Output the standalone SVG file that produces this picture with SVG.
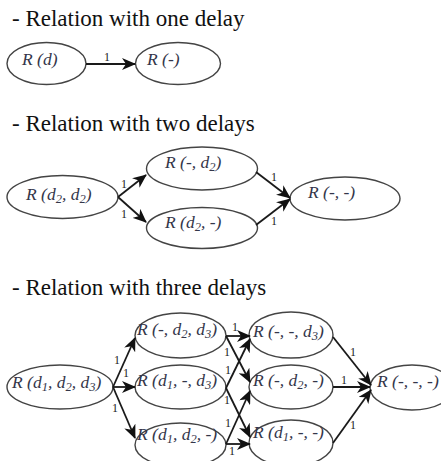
<svg xmlns="http://www.w3.org/2000/svg" width="441" height="461" viewBox="0 0 441 461">
<style>
.title{font-size:23px;fill:#111}
.lbl{font-style:italic;font-size:17.5px;fill:#34364a}
.s{font-size:12.5px}
.w{font-size:12px;fill:#222}
ellipse{fill:#fff;stroke:#444;stroke-width:1.4}
.c line{stroke:#1a1a1a;stroke-width:1.8;marker-end:url(#ah)}
</style>
<defs>
<marker id="ah" markerUnits="userSpaceOnUse" markerWidth="14" markerHeight="12" viewBox="0 0 14 12" refX="13" refY="6" orient="auto">
<path d="M0,0 L14,6 L0,12 L4,6 z" fill="#111"/>
</marker>
</defs>
<rect width="441" height="461" fill="#fff"/>
<g font-family="'Liberation Serif', 'Times New Roman', 'DejaVu Serif', serif">
<text class="title" x="12" y="26">- Relation with one delay</text>
<text class="title" x="12" y="131">- Relation with two delays</text>
<text class="title" x="12" y="295">- Relation with three delays</text>

<!-- Section 1 -->
<g id="n1_d"><ellipse cx="46.5" cy="63.5" rx="39.5" ry="21"/><text class="lbl" x="22" y="65">R (d)</text></g>
<g id="n1_e"><ellipse cx="178" cy="63.5" rx="42.5" ry="21"/><text class="lbl" x="147" y="65">R (-)</text></g>

<!-- Section 2 -->
<g id="n2_dd"><ellipse cx="62.5" cy="197" rx="55.5" ry="21.5"/><text class="lbl" x="26" y="200">R (d<tspan class="s" dy="3">2</tspan><tspan dy="-3">, d</tspan><tspan class="s" dy="3">2</tspan><tspan dy="-3">)</tspan></text></g>
<g id="n2_ed"><ellipse cx="202" cy="168.5" rx="55.5" ry="21.5"/><text class="lbl" x="165" y="168">R (-, d<tspan class="s" dy="3">2</tspan><tspan dy="-3">)</tspan></text></g>
<g id="n2_de"><ellipse cx="202" cy="228" rx="55.5" ry="20.5"/><text class="lbl" x="165" y="228">R (d<tspan class="s" dy="3">2</tspan><tspan dy="-3">, -)</tspan></text></g>
<g id="n2_ee"><ellipse cx="345" cy="198.5" rx="55" ry="21.5"/><text class="lbl" x="308" y="198">R (-, -)</text></g>

<!-- Section 3 -->
<g id="n3_ddd"><ellipse cx="60" cy="387" rx="53" ry="22"/><text class="lbl" x="12" y="388">R (d<tspan class="s" dy="3">1</tspan><tspan dy="-3">, d</tspan><tspan class="s" dy="3">2</tspan><tspan dy="-3">, d</tspan><tspan class="s" dy="3">3</tspan><tspan dy="-3">)</tspan></text></g>
<g id="n3_edd"><ellipse cx="180.5" cy="335.5" rx="45.5" ry="22.5"/><text class="lbl" x="137" y="335">R (-, d<tspan class="s" dy="3">2</tspan><tspan dy="-3">, d</tspan><tspan class="s" dy="3">3</tspan><tspan dy="-3">)</tspan></text></g>
<g id="n3_ded"><ellipse cx="180.5" cy="387" rx="45.5" ry="22"/><text class="lbl" x="137" y="386">R (d<tspan class="s" dy="3">1</tspan><tspan dy="-3">, -, d</tspan><tspan class="s" dy="3">3</tspan><tspan dy="-3">)</tspan></text></g>
<g id="n3_dde"><ellipse cx="180.5" cy="445" rx="45.5" ry="22"/><text class="lbl" x="137" y="440">R (d<tspan class="s" dy="3">1</tspan><tspan dy="-3">, d</tspan><tspan class="s" dy="3">2</tspan><tspan dy="-3">, -)</tspan></text></g>
<g id="n3_eed"><ellipse cx="291" cy="335" rx="42" ry="23"/><text class="lbl" x="253" y="337">R (-, -, d<tspan class="s" dy="3">3</tspan><tspan dy="-3">)</tspan></text></g>
<g id="n3_ede"><ellipse cx="291" cy="387" rx="42" ry="22"/><text class="lbl" x="253" y="386">R (-, d<tspan class="s" dy="3">2</tspan><tspan dy="-3">, -)</tspan></text></g>
<g id="n3_dee"><ellipse cx="291" cy="443" rx="42" ry="23"/><text class="lbl" x="253" y="438">R (d<tspan class="s" dy="3">1</tspan><tspan dy="-3">, -, -)</tspan></text></g>
<g id="n3_eee"><ellipse cx="412" cy="387.5" rx="42" ry="22.5"/><text class="lbl" x="377" y="387">R (-, -, -)</text></g>

<g id="connectors" class="c">
<line x1="86" y1="64" x2="135" y2="64"/>
<line x1="118" y1="197" x2="146" y2="175"/>
<line x1="118" y1="197" x2="146" y2="222"/>
<line x1="256" y1="172" x2="290" y2="198"/>
<line x1="256" y1="225" x2="290" y2="199"/>
<line x1="113" y1="387" x2="135" y2="338"/>
<line x1="113" y1="387" x2="135" y2="387"/>
<line x1="113" y1="387" x2="135" y2="438"/>
<line x1="226" y1="336" x2="250" y2="336"/>
<line x1="226" y1="336" x2="250" y2="382"/>
<line x1="226" y1="388" x2="250" y2="339"/>
<line x1="226" y1="388" x2="250" y2="437"/>
<line x1="226" y1="444" x2="250" y2="391"/>
<line x1="226" y1="444" x2="250" y2="444"/>
<line x1="333" y1="337" x2="371" y2="385"/>
<line x1="333" y1="387" x2="370" y2="387"/>
<line x1="333" y1="443" x2="371" y2="390"/>
</g>
<g id="weights">
<text class="w" x="104" y="61">1</text>
<text class="w" x="121" y="188">1</text>
<text class="w" x="121" y="218">1</text>
<text class="w" x="271" y="181">1</text>
<text class="w" x="271" y="225">1</text>
<text class="w" x="114" y="364">1</text>
<text class="w" x="123" y="377">1</text>
<text class="w" x="112" y="412">1</text>
<text class="w" x="232" y="331">1</text>
<text class="w" x="224" y="356">1</text>
<text class="w" x="225" y="374">1</text>
<text class="w" x="224" y="404">1</text>
<text class="w" x="225" y="427">1</text>
<text class="w" x="229" y="455">1</text>
<text class="w" x="350" y="356">1</text>
<text class="w" x="341" y="384">1</text>
<text class="w" x="350" y="429">1</text>
</g>
</g>
</svg>
